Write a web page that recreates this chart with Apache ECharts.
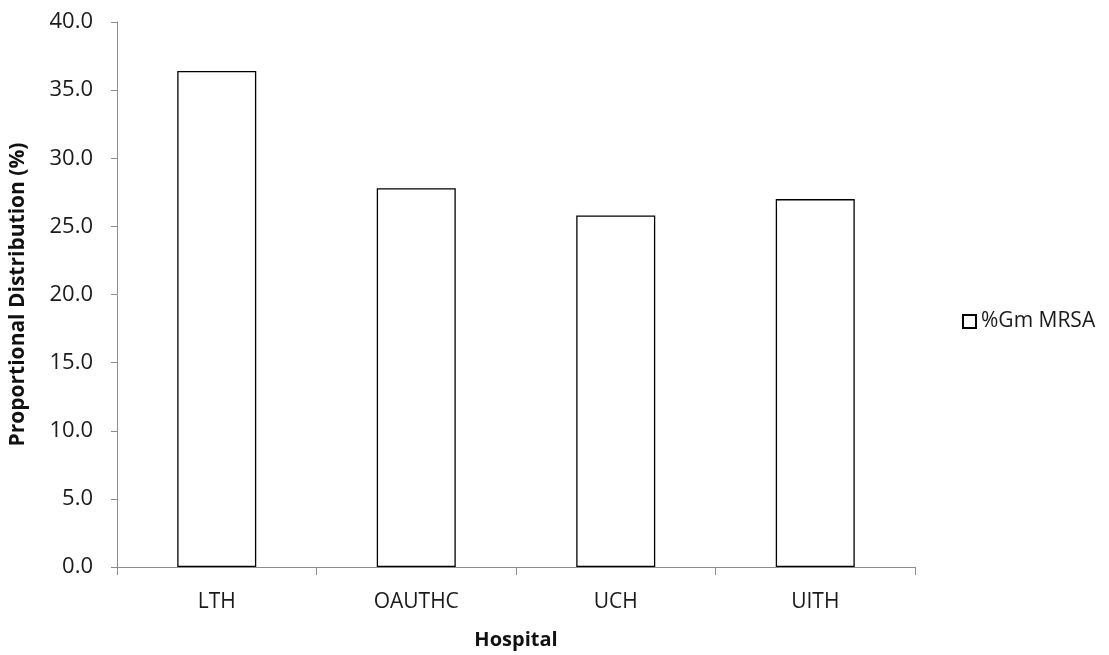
<!DOCTYPE html>
<html>
<head>
<meta charset="utf-8">
<script src="https://cdn.jsdelivr.net/npm/echarts@6/dist/echarts.min.js"></script>
<style>html,body{margin:0;padding:0;background:#fff;}#c{width:1109px;height:655px;}</style>
</head>
<body>
<div id="c"></div>
<script>
var categories = ['LTH', 'OAUTHC', 'UCH', 'UITH'];
var values = [36.4, 27.8, 25.8, 27.0];
var seriesName = '%Gm MRSA';
var yTitle = 'Proportional Distribution (%)';
var xTitle = 'Hospital';

var font = 'Open Sans';
var chart = echarts.init(document.getElementById('c'));
chart.setOption({
  animation: false,
  backgroundColor: '#fff',
  grid: { left: 115, right: 194, top: 22, bottom: 77, containLabel: false },
  legend: {
    orient: 'vertical',
    left: 957, top: 306,
    itemWidth: 13, itemHeight: 13, itemGap: 6,
    icon: 'rect',
    textStyle: { fontFamily: font, fontSize: 21, color: '#1a1a1a' },
    data: [seriesName]
  },
  xAxis: {
    type: 'category',
    data: categories,
    name: xTitle,
    nameLocation: 'middle',
    nameGap: 63,
    nameTextStyle: { fontFamily: font, fontSize: 20, fontWeight: 'bold', color: '#111' },
    axisLine: { lineStyle: { color: '#8c8c8c', width: 1 } },
    axisTick: { show: true, length: 8, lineStyle: { color: '#8c8c8c' } },
    axisLabel: { fontFamily: font, fontSize: 21, color: '#1a1a1a', margin: 25 }
  },
  yAxis: {
    type: 'value',
    min: 0, max: 40, interval: 5,
    name: yTitle,
    nameLocation: 'middle',
    nameGap: 88,
    nameRotate: 90,
    nameTextStyle: { fontFamily: font, fontSize: 21, fontWeight: 'bold', color: '#111' },
    axisLine: { show: true, lineStyle: { color: '#8c8c8c', width: 1 } },
    axisTick: { show: true, length: 6, lineStyle: { color: '#8c8c8c' } },
    splitLine: { show: false },
    axisLabel: { fontFamily: font, fontSize: 22, color: '#1a1a1a', margin: 24,
      formatter: function (v) { return v.toFixed(1); } }
  },
  series: [{
    name: seriesName,
    type: 'bar',
    data: values,
    barWidth: 79,
    itemStyle: { color: '#ffffff', borderColor: '#000', borderWidth: 1.3 }
  }]
});
</script>
</body>
</html>
